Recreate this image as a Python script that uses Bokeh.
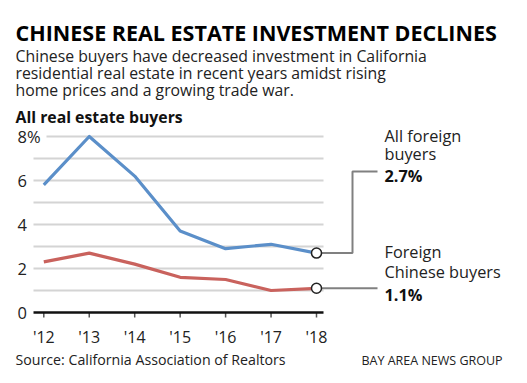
from bokeh.plotting import figure
from bokeh.models import Range1d
from bokeh.core.properties import value
from bokeh.embed import file_html
from bokeh.resources import INLINE

# ---- data ----
years = [2012, 2013, 2014, 2015, 2016, 2017, 2018]
year_labels = ["'12", "'13", "'14", "'15", "'16", "'17", "'18"]
all_foreign = [5.8, 8.0, 6.2, 3.7, 2.9, 3.1, 2.7]
chinese = [2.3, 2.7, 2.2, 1.6, 1.5, 1.0, 1.1]
y_ticks = [0, 2, 4, 6, 8]
y_tick_labels = ["0", "2", "4", "6", "8%"]
grid_lines = [1, 2, 3, 4, 5, 6, 7]
top_grid = 8

BLUE = "#5b8fc9"
RED = "#c9625d"
FONT = "Open Sans"

W, H = 527, 383
# layout in page pixels
X0PX, XSTEP = 43.3, 45.45
Y0PX, YSTEP = 312.0, 22.0

def dx(px):
    return 2012 + (px - X0PX) / XSTEP

def dy(py):
    return (Y0PX - py) / YSTEP

p = figure(width=W, height=H, output_backend="svg", toolbar_location=None,
           x_range=Range1d(dx(0), dx(W)), y_range=Range1d(dy(H), dy(0)),
           x_axis_location=None, y_axis_location=None,
           min_border=0)
p.outline_line_color = None
p.background_fill_color = "white"
p.border_fill_color = "white"
p.grid.visible = False

GL, GR = dx(33), dx(323)

# gridlines
p.segment(x0=[GL] * len(grid_lines), y0=grid_lines, x1=[GR] * len(grid_lines), y1=grid_lines,
          line_color="#d4d4d4", line_width=2)
p.segment(x0=[dx(46)], y0=[top_grid], x1=[GR], y1=[top_grid],
          line_color="#d4d4d4", line_width=2)

# x axis (baseline, ticks, labels)
p.segment(x0=years, y0=[0] * len(years), x1=years, y1=[dy(317)] * len(years),
          line_color="#555555", line_width=1.5)
p.segment(x0=[GL], y0=[0], x1=[GR], y1=[0], line_color="#111111", line_width=2.5)
p.text(x=years, y=[dy(336)] * len(years), text=year_labels, text_font=value(FONT),
       text_font_size="16px", text_color="#222222", text_align="center",
       text_baseline="alphabetic")

# y tick labels
p.text(x=[dx(17)] * len(y_ticks), y=y_ticks, text=y_tick_labels, text_font=value(FONT),
       text_font_size="16.5px", text_color="#222222", text_align="left", text_baseline="middle")

# connectors
xe = years[-1]
p.line([xe, dx(352), dx(352), dx(377)], [all_foreign[-1], all_foreign[-1], dy(171), dy(171)],
       line_color="#808080", line_width=2)
p.line([xe, dx(377)], [chinese[-1], chinese[-1]], line_color="#808080", line_width=2)

# series
p.line(years, all_foreign, line_color=BLUE, line_width=3.2, line_join="round")
p.line(years, chinese, line_color=RED, line_width=3.2, line_join="round")

p.scatter([xe, xe], [all_foreign[-1], chinese[-1]], size=10, marker="circle",
          fill_color="white", line_color="#222222", line_width=1.5)

def lab(px, py, text, size, bold=False, color="#111111", font=FONT):
    p.text(x=[dx(px)], y=[dy(py)], text=[text], text_font=value(font),
           text_font_size=size, text_color=color,
           text_font_style="bold" if bold else "normal",
           text_baseline="alphabetic", text_align="left")

lab(15, 31.7, "CHINESE REAL ESTATE INVESTMENT DECLINES", "21.5px", bold=True, color="#000000")
lab(15, 55.7, "Chinese buyers have decreased investment in California", "15.8px", color="#222222")
lab(15, 72.7, "residential real estate in recent years amidst rising", "15.8px", color="#222222")
lab(15, 89.3, "home prices and a growing trade war.", "15.8px", color="#222222")
lab(15, 116.7, "All real estate buyers", "15.8px", bold=True, color="#111111")

lab(384, 135, "All foreign", "16.3px", color="#222222")
lab(384, 153.5, "buyers", "16.3px", color="#222222")
lab(384, 175.7, "2.7%", "16.3px", bold=True, color="#111111")
lab(384, 251.7, "Foreign", "16.3px", color="#222222")
lab(384, 271, "Chinese buyers", "16.3px", color="#222222")
lab(384, 294, "1.1%", "16.3px", bold=True, color="#111111")

lab(15, 359.3, "Source: California Association of Realtors", "14.2px", color="#222222")
lab(361, 359.5, "BAY AREA NEWS GROUP", "12.5px", color="#222222")

open("out.html", "w").write(file_html(p, INLINE))
